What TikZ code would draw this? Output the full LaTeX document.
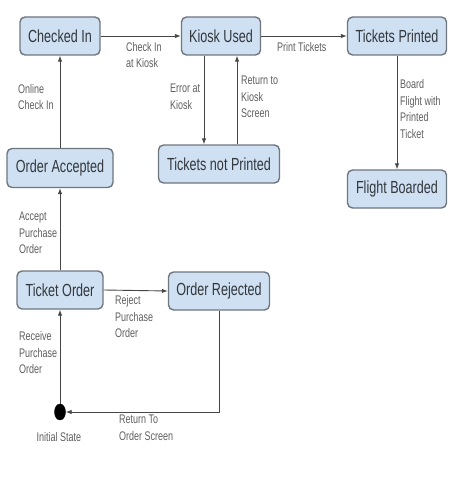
\documentclass[tikz,border=0pt]{standalone}
\usepackage{fontspec}
\setmainfont{Liberation Sans}[FakeStretch=0.72]
\usetikzlibrary{arrows.meta,shapes.geometric}
\definecolor{boxfill}{RGB}{207,224,242}
\definecolor{boxline}{RGB}{110,118,128}
\definecolor{txt}{RGB}{50,55,60}
\definecolor{lbl}{RGB}{95,95,95}
\definecolor{arr}{RGB}{70,70,70}
\tikzset{
  state/.style={draw=boxline, fill=boxfill, rounded corners=5pt, line width=1.4pt,
    minimum height=38pt, inner sep=0pt, text=txt, font=\fontsize{17.5}{20}\selectfont},
  lab/.style={align=left, inner sep=0pt, text=lbl, font=\fontsize{12.5}{16.5}\selectfont},
  conn/.style={draw=arr, line width=0.9pt, -{Latex[length=6pt,width=4.5pt]}}
}
\begin{document}
\begin{tikzpicture}[x=1pt,y=-1pt]
\useasboundingbox (0,0) rectangle (455,500);
% states
\node[state, minimum width=80pt]  (checked) at (60,36) {Checked In};
\node[state, minimum width=79pt]  (kiosk) at (221,36) {Kiosk Used};
\node[state, minimum width=99pt]  (tprinted) at (397,36) {Tickets Printed};
\node[state, minimum width=106pt, minimum height=39pt] (accepted) at (60,168) {Order Accepted};
\node[state, minimum width=121pt] (notprinted) at (219,164) {Tickets not Printed};
\node[state, minimum width=99pt]  (boarded) at (397,189) {Flight Boarded};
\node[state, minimum width=86pt]  (torder) at (60,290) {Ticket Order};
\node[state, minimum width=101pt] (rejected) at (219,291) {Order Rejected};
\node[draw=black, fill=black, ellipse, minimum width=11pt, minimum height=16pt, inner sep=0pt] (init) at (60,412) {};
% connectors
\draw[conn] (init.north) -- (torder.south);
\draw[conn] (torder.north) -- (accepted.south);
\draw[conn] (accepted.north) -- (checked.south);
\draw[conn] (checked.east) -- (kiosk.west);
\draw[conn] ([xshift=-17pt]kiosk.south) -- ([xshift=-17pt]kiosk.south |- notprinted.north);
\draw[conn] ([xshift=16pt]kiosk.south |- notprinted.north) -- ([xshift=16pt]kiosk.south);
\draw[conn] (kiosk.east) -- (tprinted.west);
\draw[conn] (tprinted.south) -- (boarded.north);
\draw[conn] (torder.east) -- (rejected.west);
\draw[conn] (rejected.south) |- (init.east);
% labels
\node[lab, anchor=west] (l1) at (18,97) {Online\\Check In};
\node[lab, anchor=west] (l2) at (126,55) {Check In\\at Kiosk};
\node[lab, anchor=west] (l3) at (170,97) {Error at\\Kiosk};
\node[lab, anchor=west] (l4) at (277,47) {Print Tickets};
\node[lab, anchor=west] (l5) at (241,97) {Return to\\Kiosk\\Screen};
\node[lab, anchor=west] (l6) at (400,109) {Board\\Flight with\\Printed\\Ticket};
\node[lab, anchor=west] (l7) at (19,233) {Accept\\Purchase\\Order};
\node[lab, anchor=west] (l8) at (115,317) {Reject\\Purchase\\Order};
\node[lab, anchor=west] (l9) at (19,353) {Receive\\Purchase\\Order};
\node[lab] (l10) at (59,437) {Initial State};
\node[lab, anchor=west] (l11) at (119,428) {Return To\\Order Screen};
\end{tikzpicture}
\end{document}
